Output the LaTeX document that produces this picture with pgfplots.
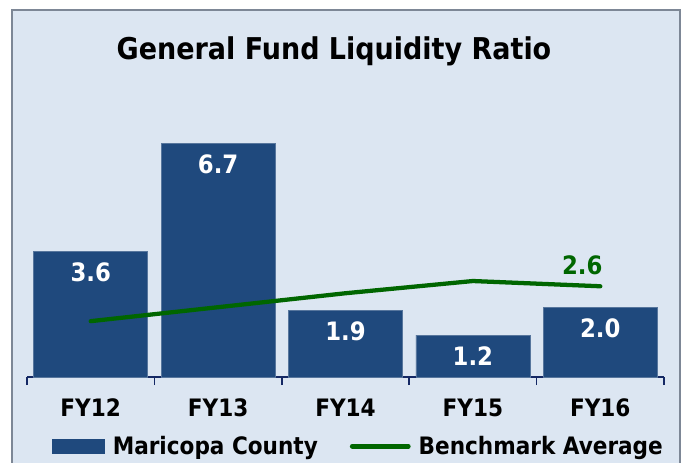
\documentclass[border=0pt]{standalone}
\usepackage{fontspec}
\setmainfont{DejaVu Sans Condensed}
\usepackage{pgfplots}
\pgfplotsset{compat=1.18}
\definecolor{panel}{RGB}{220,230,242}
\definecolor{bord}{RGB}{125,135,150}
\definecolor{barblue}{RGB}{31,73,125}
\definecolor{lgreen}{RGB}{0,102,0}
\definecolor{axisblue}{RGB}{20,40,100}
\begin{document}
\begin{tikzpicture}
\useasboundingbox (0,0) rectangle (516pt,-347.25pt);
\fill[white] (0,0) rectangle (516pt,-347.25pt);
\filldraw[fill=panel, draw=bord, line width=1.5pt] (9pt,-7.5pt) rectangle (510pt,-400pt);
\node[anchor=base, font=\fontsize{22.5}{26}\selectfont\bfseries] at (250.5pt,-45pt) {General Fund Liquidity Ratio};
\begin{axis}[
  at={(20.25pt,-282.75pt)}, anchor=south west,
  scale only axis, width=477.75pt, height=209.4pt,
  xmin=-0.5, xmax=4.5, ymin=0, ymax=8,
  axis y line=none, axis x line*=bottom,
  axis line style={draw=axisblue, line width=1.1pt},
  xtick={0,1,2,3,4}, xticklabels={FY12,FY13,FY14,FY15,FY16},
  major tick length=0pt,
  minor xtick={-0.5,0.5,1.5,2.5,3.5,4.5},
  minor tick length=6pt, tick align=outside,
  minor tick style={draw=axisblue, line width=1.1pt},
  xticklabel style={font=\fontsize{18}{20}\selectfont\bfseries, yshift=-13pt},
  clip=false,
  legend columns=2,
  legend style={at={(0.0392,-0.248)}, anchor=west, draw=none, fill=none, inner sep=0pt,
    font=\fontsize{18}{20}\selectfont\bfseries,
    /tikz/every odd column/.append style={column sep=4pt},
    /tikz/every even column/.append style={column sep=22pt}},
]
\addplot[ybar, bar width=85.5pt, fill=barblue, draw=barblue!75!white,
  point meta=explicit symbolic, nodes near coords,
  every node near coord/.append style={anchor=center, yshift=-15.75pt, text=white,
    font=\fontsize{19}{21}\selectfont\bfseries},
  legend image code/.code={\fill[barblue] (0pt,-4.9pt) rectangle (39pt,4.9pt);}]
  coordinates {(0,3.6)[3.6] (1,6.7)[6.7] (2,1.9)[1.9] (3,1.2)[1.2] (4,2.0)[2.0]};
\addlegendentry{Maricopa County}
\addplot[lgreen, line width=3.2pt, line cap=round, line join=round, mark=none,
  legend image code/.code={\draw[lgreen, line width=3.6pt, line cap=round] (0pt,0pt) -- (42pt,0pt);}]
  coordinates {(0,1.6) (1,2.0) (2,2.4) (3,2.75) (4,2.6)};
\addlegendentry{Benchmark Average}
\addplot[draw=none, mark=none, forget plot, point meta=explicit symbolic, nodes near coords,
  every node near coord/.append style={anchor=center, xshift=-13.5pt, yshift=15.75pt, text=lgreen,
    font=\fontsize{19}{21}\selectfont\bfseries}]
  coordinates {(4,2.6)[2.6]};
\end{axis}
\end{tikzpicture}
\end{document}
